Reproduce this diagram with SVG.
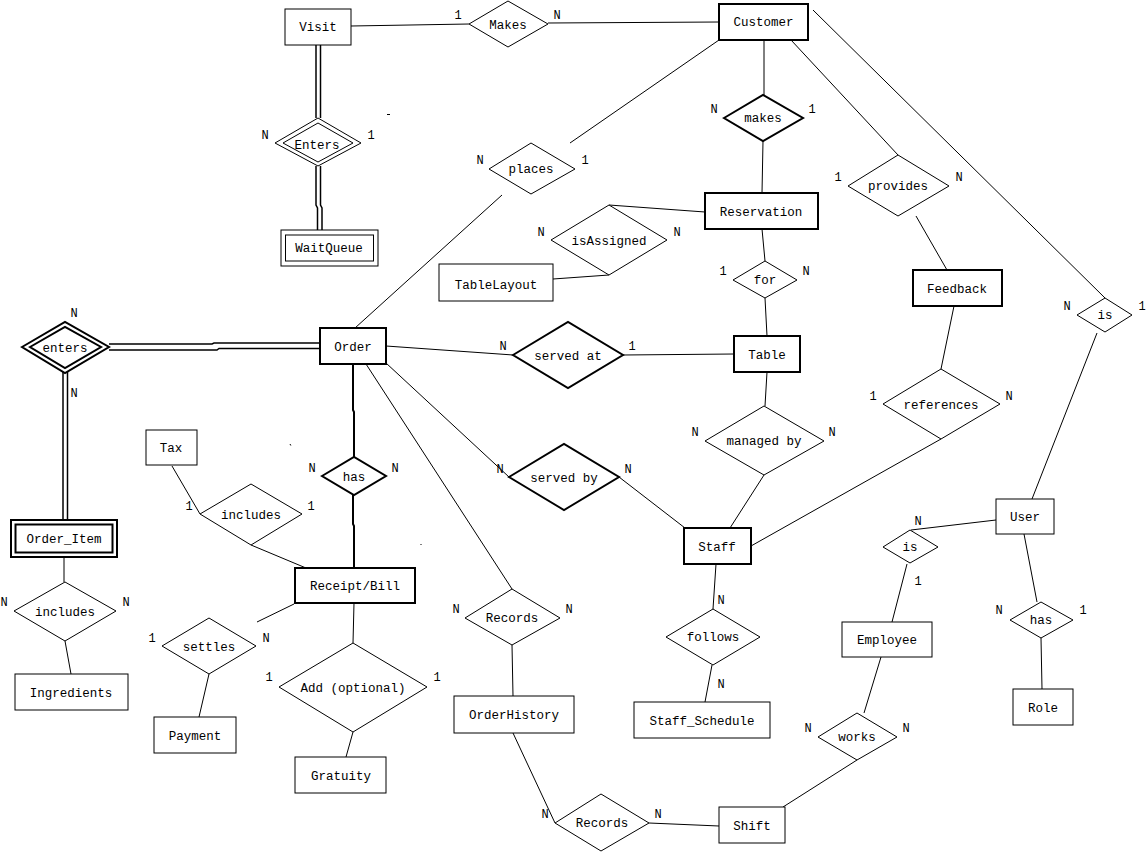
<svg xmlns="http://www.w3.org/2000/svg" width="1147" height="852" viewBox="0 0 1147 852">
<style>
text{font-family:"Liberation Mono","Courier New",monospace;font-size:12.5px;fill:#000;text-anchor:middle}
.lb{font-size:12px}
.e{fill:#fff;stroke:#000;stroke-width:1}
.eb{fill:#fff;stroke:#000;stroke-width:2}
.r{fill:#fff;stroke:#000;stroke-width:1}
.rb{fill:#fff;stroke:#000;stroke-width:2}
#connectors line,#connectors polyline{stroke:#000;stroke-width:1;fill:none}
#connectors .t{stroke-width:2}
#connectors .d{stroke-width:1.5}
</style>
<rect width="1147" height="852" fill="#fff"/>
<g id="connectors">
<line x1="351" y1="26" x2="469" y2="24"/>
<line x1="548" y1="23" x2="719" y2="22"/>
<line class="d" x1="316" y1="45" x2="316" y2="118"/>
<line class="d" x1="320.5" y1="45" x2="320.5" y2="118"/>
<polyline class="d" points="316,166 316,205 317.5,208 317.5,230"/>
<polyline class="d" points="320.5,166 320.5,205 322,208 322,230"/>
<line x1="719" y1="40" x2="570" y2="143"/>
<line x1="502" y1="195" x2="355" y2="328"/>
<line x1="764" y1="40" x2="764" y2="95"/>
<line x1="763" y1="141" x2="762" y2="193"/>
<line x1="705" y1="212" x2="609" y2="205"/>
<line x1="609" y1="275" x2="553" y2="279"/>
<line x1="762" y1="229" x2="765" y2="261"/>
<line x1="765" y1="298" x2="767" y2="336"/>
<line x1="386" y1="346" x2="513" y2="355"/>
<line x1="623" y1="355" x2="734" y2="354"/>
<line x1="767" y1="372" x2="765" y2="406"/>
<line x1="764" y1="475" x2="730" y2="528"/>
<line x1="386" y1="363" x2="509" y2="477"/>
<line x1="619" y1="477" x2="685" y2="528"/>
<line x1="751" y1="546" x2="941" y2="439"/>
<line x1="954" y1="306" x2="941" y2="369"/>
<line x1="791" y1="40" x2="898" y2="155"/>
<line x1="916" y1="216" x2="947" y2="270"/>
<line x1="813" y1="10" x2="1105" y2="298"/>
<line x1="1097" y1="333" x2="1032" y2="499"/>
<line x1="996" y1="520" x2="911" y2="530"/>
<line x1="907" y1="564" x2="892" y2="622"/>
<line x1="881" y1="657" x2="864" y2="713"/>
<line x1="857" y1="760" x2="783" y2="807"/>
<line x1="649" y1="823" x2="719" y2="826"/>
<line x1="513" y1="733" x2="555" y2="823"/>
<line x1="366" y1="364" x2="512" y2="589"/>
<line x1="512" y1="645" x2="513" y2="696"/>
<line x1="716" y1="564" x2="713" y2="609"/>
<line x1="712" y1="665" x2="705" y2="702"/>
<line x1="1024" y1="534" x2="1037" y2="602"/>
<line x1="1041" y1="638" x2="1042" y2="689"/>
<polyline class="d" points="109,344 212,344 214,343 320,343"/>
<polyline class="d" points="109,350 217,350 219,348.5 320,348.5"/>
<line class="d" x1="63" y1="372" x2="63" y2="521"/>
<line class="d" x1="67.5" y1="372" x2="67.5" y2="521"/>
<rect x="61" y="521" width="7.5" height="5" fill="#fff" stroke="#000" stroke-width="1.5"/>
<line x1="64" y1="557" x2="64" y2="582"/>
<line x1="65" y1="641" x2="71" y2="674"/>
<line x1="172" y1="466" x2="200" y2="514"/>
<line x1="251" y1="545" x2="306" y2="568"/>
<polyline class="t" points="353,364 353,410 354,412 354,457"/>
<polyline class="t" points="353,495 353,524 354,526 354,568"/>
<line x1="294" y1="604" x2="257" y2="622"/>
<line x1="209" y1="674" x2="199" y2="717"/>
<line x1="354" y1="603" x2="353" y2="643"/>
<line x1="353" y1="732" x2="346" y2="757"/>
<line x1="387" y1="114.5" x2="390" y2="114.5"/>
<line x1="290" y1="444" x2="290.8" y2="445.5"/>
<line x1="420.5" y1="544" x2="421.5" y2="545"/>
</g>
<g id="Visit"><rect class="r" x="285" y="9" width="66" height="36"/><text x="318" y="31">Visit</text></g>
<g id="Makes"><polygon class="e" points="469,24 508,1 548,24 508,47"/><text x="508" y="29">Makes</text><text class="lb" x="458" y="19">1</text><text class="lb" x="557" y="19">N</text></g>
<g id="Customer"><rect class="rb" x="719" y="4" width="89" height="36"/><text x="763.5" y="26">Customer</text></g>
<g id="Enters"><polygon class="e" points="275,143 318,118 361,143 318,166"/><polygon class="e" points="283,143 318,123 353,143 318,162"/><text x="317" y="149">Enters</text><text class="lb" x="265" y="139">N</text><text class="lb" x="371" y="139">1</text></g>
<g id="WaitQueue"><rect class="r" x="281" y="230" width="97" height="36"/><rect class="r" x="285.5" y="235" width="88" height="26"/><text x="329" y="252">WaitQueue</text></g>
<g id="places"><polygon class="e" points="489,169 531,143 575,169 531,194"/><text x="531" y="173">places</text><text class="lb" x="480" y="164">N</text><text class="lb" x="585" y="164">1</text></g>
<g id="makes"><polygon class="eb" points="724,118 763,95 803,118 763,141"/><text x="763" y="122">makes</text><text class="lb" x="714" y="113">N</text><text class="lb" x="812" y="113">1</text></g>
<g id="Reservation"><rect class="rb" x="705" y="193" width="113" height="36"/><text x="761" y="216">Reservation</text></g>
<g id="isAssigned"><polygon class="e" points="551,240 609,205 667,240 609,275"/><text x="609" y="245">isAssigned</text><text class="lb" x="541" y="236">N</text><text class="lb" x="677" y="236">N</text></g>
<g id="TableLayout"><rect class="r" x="439" y="264" width="114" height="37"/><text x="496" y="289">TableLayout</text></g>
<g id="for"><polygon class="e" points="733,280 765,261 797,280 765,298"/><text x="765" y="284">for</text><text class="lb" x="723" y="275">1</text><text class="lb" x="806" y="275">N</text></g>
<g id="Table"><rect class="rb" x="734" y="336" width="66" height="36"/><text x="767" y="359">Table</text></g>
<g id="Order"><rect class="rb" x="320" y="328" width="66" height="36"/><text x="353" y="351">Order</text></g>
<g id="served_at"><polygon class="eb" points="513,355 568,322 623,355 568,388"/><text x="568" y="360">served at</text><text class="lb" x="503" y="350">N</text><text class="lb" x="632" y="350">1</text></g>
<g id="managed_by"><polygon class="e" points="705,441 764,406 824,441 764,475"/><text x="764" y="445">managed by</text><text class="lb" x="695" y="436">N</text><text class="lb" x="832" y="436">N</text></g>
<g id="served_by"><polygon class="eb" points="509,477 564,444 619,477 564,510"/><text x="564" y="482">served by</text><text class="lb" x="500" y="473">N</text><text class="lb" x="628" y="473">N</text></g>
<g id="Staff"><rect class="rb" x="684" y="528" width="67" height="36"/><text x="717" y="551">Staff</text></g>
<g id="references"><polygon class="e" points="883,404 941,369 1000,404 941,439"/><text x="941" y="409">references</text><text class="lb" x="873" y="400">1</text><text class="lb" x="1009" y="400">N</text></g>
<g id="Feedback"><rect class="rb" x="913" y="270" width="89" height="36"/><text x="957" y="293">Feedback</text></g>
<g id="provides"><polygon class="e" points="848,186 898,155 949,186 898,216"/><text x="898" y="190">provides</text><text class="lb" x="838" y="181">1</text><text class="lb" x="959" y="181">N</text></g>
<g id="is_customer"><polygon class="e" points="1077,315 1105,298 1132,315 1105,332"/><text x="1105" y="319">is</text><text class="lb" x="1067" y="310">N</text><text class="lb" x="1142" y="310">1</text></g>
<g id="User"><rect class="r" x="996" y="499" width="58" height="35"/><text x="1025" y="521">User</text></g>
<g id="is_employee"><polygon class="e" points="883,547 910,530 938,547 910,563"/><text x="910" y="551">is</text><text class="lb" x="918" y="525">N</text><text class="lb" x="918" y="585">1</text></g>
<g id="Employee"><rect class="r" x="842" y="622" width="90" height="35"/><text x="887" y="644">Employee</text></g>
<g id="works"><polygon class="e" points="818,737 857,713 897,737 857,760"/><text x="857" y="741">works</text><text class="lb" x="808" y="732">N</text><text class="lb" x="906" y="732">N</text></g>
<g id="Shift"><rect class="r" x="719" y="807" width="66" height="36"/><text x="752" y="830">Shift</text></g>
<g id="Records_shift"><polygon class="e" points="555,823 601,794 649,823 601,851"/><text x="602" y="827">Records</text><text class="lb" x="545" y="818">N</text><text class="lb" x="658" y="818">N</text></g>
<g id="OrderHistory"><rect class="r" x="454" y="696" width="120" height="37"/><text x="514" y="719">OrderHistory</text></g>
<g id="Records_order"><polygon class="e" points="465,618 512,589 560,618 512,645"/><text x="512" y="622">Records</text><text class="lb" x="456" y="613">N</text><text class="lb" x="569" y="613">N</text></g>
<g id="follows"><polygon class="e" points="666,637 713,609 760,637 713,665"/><text x="713" y="641">follows</text><text class="lb" x="721" y="604">N</text><text class="lb" x="721" y="688">N</text></g>
<g id="Staff_Schedule"><rect class="r" x="634" y="702" width="136" height="36"/><text x="702" y="725">Staff_Schedule</text></g>
<g id="has_role"><polygon class="e" points="1010,620 1041,602 1073,620 1041,638"/><text x="1041" y="624">has</text><text class="lb" x="999" y="614">N</text><text class="lb" x="1083" y="614">1</text></g>
<g id="Role"><rect class="r" x="1013" y="689" width="60" height="36"/><text x="1043" y="712">Role</text></g>
<g id="enters"><polygon class="eb" points="22,347 65,322 109,347 65,373"/><polygon class="eb" points="30,347 65,327 101,347 65,368"/><text x="65" y="352">enters</text><text class="lb" x="74" y="317">N</text><text class="lb" x="74" y="397">N</text></g>
<g id="Order_Item"><rect class="rb" x="11" y="520" width="106" height="37"/><rect class="rb" x="15.5" y="524.5" width="97" height="28"/><text x="64" y="543">Order_Item</text></g>
<g id="includes_ingredients"><polygon class="e" points="14,611 65,582 116,611 65,641"/><text x="65" y="616">includes</text><text class="lb" x="4" y="606">N</text><text class="lb" x="126" y="606">N</text></g>
<g id="Ingredients"><rect class="r" x="15" y="674" width="113" height="36"/><text x="71" y="697">Ingredients</text></g>
<g id="Tax"><rect class="r" x="146" y="430" width="51" height="35"/><text x="171" y="452">Tax</text></g>
<g id="includes_tax"><polygon class="e" points="200,514 251,484 302,514 251,545"/><text x="251" y="519">includes</text><text class="lb" x="189" y="510">1</text><text class="lb" x="311" y="510">1</text></g>
<g id="has_bill"><polygon class="eb" points="322,476 354,457 386,476 354,495"/><text x="354" y="481">has</text><text class="lb" x="312" y="472">N</text><text class="lb" x="395" y="472">N</text></g>
<g id="Receipt_Bill"><rect class="rb" x="295" y="568" width="120" height="35"/><text x="355" y="590">Receipt/Bill</text></g>
<g id="settles"><polygon class="e" points="162,646 209,618 256,646 209,674"/><text x="209" y="651">settles</text><text class="lb" x="152" y="642">1</text><text class="lb" x="266" y="642">N</text></g>
<g id="Payment"><rect class="r" x="154" y="717" width="82" height="36"/><text x="195" y="740">Payment</text></g>
<g id="Add_optional"><polygon class="e" points="279,687 353,643 427,687 353,732"/><text x="353" y="692">Add (optional)</text><text class="lb" x="269" y="681">1</text><text class="lb" x="437" y="681">1</text></g>
<g id="Gratuity"><rect class="r" x="295" y="757" width="91" height="36"/><text x="341" y="780">Gratuity</text></g>
</svg>
